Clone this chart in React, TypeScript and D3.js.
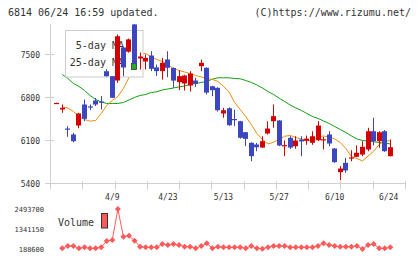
import React, { useEffect, useRef } from 'react';
import * as d3 from 'd3';

const W = 420;
const H = 259;

// daily candles, oldest first
const opens = [6705, 6605, 6295, 6198, 6344, 6686, 6655, 6751, 6735, 7228, 7147, 7077, 7614, 7546, 7990, 7435, 7386, 7484, 7290, 7229, 7419, 7280, 7049, 7028, 6995, 7077, 7310, 7284, 6984, 6958, 6540, 6625, 6450, 6414, 6235, 6063, 6035, 5985, 6214, 6414, 6426, 6010, 6144, 6007, 6116, 6095, 6063, 6105, 6105, 6198, 5970, 5584, 5737, 5805, 5835, 5872, 5954, 6251, 6089, 6251, 5845];
const highs = [6715, 6686, 6333, 6225, 6550, 6767, 6686, 6790, 6824, 7260, 7150, 7826, 7630, 7760, 7995, 7533, 7500, 7554, 7337, 7446, 7554, 7290, 7240, 7170, 7229, 7120, 7419, 7290, 6990, 6965, 6632, 6640, 6600, 6420, 6240, 6070, 6063, 6170, 6414, 6686, 6430, 6100, 6170, 6170, 6170, 6180, 6250, 6414, 6160, 6251, 5975, 5682, 5818, 5942, 6020, 6089, 6307, 6470, 6251, 6270, 6116];
const lows = [6705, 6551, 6160, 6072, 6300, 6414, 6594, 6660, 6605, 7140, 6790, 7039, 7147, 7530, 7340, 7256, 7256, 7229, 7150, 7092, 7130, 6958, 6920, 6914, 6898, 6974, 7229, 6850, 6821, 6572, 6470, 6340, 6333, 6130, 6007, 5763, 5926, 5980, 6198, 6307, 6010, 5845, 5960, 5965, 5845, 6030, 6030, 6089, 5954, 6007, 5737, 5454, 5574, 5763, 5830, 5845, 5926, 6019, 5981, 5915, 5840];
const closes = [6712, 6632, 6285, 6089, 6540, 6453, 6645, 6686, 6725, 7147, 6796, 7798, 7288, 7746, 7350, 7468, 7446, 7267, 7229, 7365, 7284, 7075, 7147, 7158, 7190, 7023, 7365, 6880, 6919, 6593, 6593, 6349, 6435, 6144, 6127, 5845, 5990, 6089, 6295, 6496, 6019, 6025, 5985, 6100, 6085, 6130, 6170, 6344, 6120, 6051, 5747, 5644, 5612, 5825, 5900, 5997, 6251, 6089, 6235, 5926, 5991];

const ma5 = [null, 6643, 6630, 6573, 6491, 6442, 6415, 6426, 6540, 6670, 6752, 6817, 6947, 7126, 7354, 7517, 7517, 7460, 7419, 7387, 7330, 7273, 7240, 7216, 7191, 7159, 7134, 7110, 7094, 7061, 6980, 6890, 6719, 6605, 6491, 6361, 6214, 6117, 6043, 6073, 6117, 6170, 6182, 6149, 6125, 6108, 6092, 6157, 6174, 6157, 6125, 6068, 5970, 5840, 5807, 5766, 5848, 5926, 6035, 6100, 6092];
const ma25 = [null, 7175, 7110, 7029, 6980, 6915, 6833, 6768, 6727, 6703, 6703, 6703, 6719, 6760, 6801, 6833, 6849, 6882, 6893, 6923, 6939, 6955, 6972, 6988, 7012, 7029, 7045, 7061, 7099, 7121, 7121, 7120, 7110, 7105, 7077, 7045, 7004, 6955, 6898, 6849, 6789, 6735, 6678, 6630, 6589, 6540, 6491, 6459, 6418, 6377, 6328, 6279, 6231, 6174, 6125, 6100, 6092, 6079, 6068, 6060, 6043];

const volumes = [null, 227000, 361500, 361500, 227000, 284600, 227000, 227000, 284600, 649600, 707200, 2493700, 899300, 957000, 668800, 323100, 284600, 284600, 284600, 476700, 419100, 476700, 419100, 323100, 323100, 227000, 361500, 515200, 227000, 323100, 284600, 284600, 284600, 284600, 227000, 361500, 227000, 210000, 284600, 361500, 361500, 361500, 284600, 284600, 284600, 284600, 284600, 361500, 515200, 419100, 361500, 323100, 323100, 323100, 361500, 188600, 419100, 476700, 227000, 227000, 284600];

const priceTicks = [5400, 6100, 6800, 7500];
const dateLabels = ['4/9', '4/23', '5/13', '5/27', '6/10', '6/24'];
const dateLabelIdx = [10, 20, 30, 40, 50, 60];

const UP = '#d40000';
const DOWN = '#3c46be';
const MA5_COLOR = '#f08c10';
const MA25_COLOR = '#10a010';
const VOL_COLOR = '#ff5a5a';
const GRID = '#d0d0d0';
const TEXT = '#333';
const MONO = '"DejaVu Sans Mono", monospace';

export default function App() {
    const svgRef = useRef<SVGSVGElement>(null);

    useEffect(() => {
        const svg = d3.select(svgRef.current);
        svg.selectAll('*').remove();

        const x = d3.scaleLinear().domain([0, opens.length - 1]).range([56.7, 390.3]);
        const y = d3.scaleLinear().domain([5400, 8000]).range([183.5, 23.8]);
        const volExtent = d3.extent(volumes.filter(v => v != null) as number[]) as [number, number];
        const vy = d3.scaleLinear().domain(volExtent).range([249, 209]);
        const snap = (v: number) => Math.round(v - 0.5) + 0.5;

        // header
        svg.append('text').attr('x', 8).attr('y', 16)
            .attr('font-family', MONO).attr('font-size', 10).attr('fill', TEXT)
            .text('6814 06/24 16:59 updated.');
        svg.append('text').attr('x', 411).attr('y', 16).attr('text-anchor', 'end')
            .attr('font-family', MONO).attr('font-size', 10).attr('fill', TEXT)
            .text('(C)https://www.rizumu.net/');

        // axes frame
        const axes = svg.append('g').attr('stroke', GRID).attr('stroke-width', 1);
        axes.append('line').attr('x1', 50.5).attr('x2', 50.5).attr('y1', 24).attr('y2', 184);
        axes.append('line').attr('x1', 45).attr('x2', 405.5).attr('y1', 183.5).attr('y2', 183.5);
        axes.selectAll('.yt').data(priceTicks).enter().append('line')
            .attr('x1', 45).attr('x2', 54)
            .attr('y1', d => snap(y(d))).attr('y2', d => snap(y(d)));
        axes.selectAll('.xt').data(d3.range(12)).enter().append('line')
            .attr('x1', d => snap(50.7 + d * 32.24)).attr('x2', d => snap(50.7 + d * 32.24))
            .attr('y1', 181).attr('y2', 189.5);

        svg.selectAll('.ylab').data(priceTicks).enter().append('text')
            .attr('x', 40).attr('y', d => y(d) + 3)
            .attr('text-anchor', 'end').attr('font-family', MONO).attr('font-size', 8).attr('fill', TEXT)
            .text(d => String(d));

        svg.selectAll('.xlab').data(dateLabels).enter().append('text')
            .attr('x', (d, i) => x(dateLabelIdx[i]))
            .attr('y', 200)
            .attr('text-anchor', (d, i) => (i === dateLabels.length - 1 ? 'end' : 'middle'))
            .attr('dx', (d, i) => (i === dateLabels.length - 1 ? 8 : 0))
            .attr('font-family', MONO).attr('font-size', 8).attr('fill', TEXT)
            .text(d => d);

        // moving averages
        const maLine = d3.line<number | null>()
            .defined(d => d != null)
            .x((d, i) => x(i))
            .y(d => y(d as number));
        svg.append('path').attr('d', maLine(ma25)).attr('fill', 'none')
            .attr('stroke', MA25_COLOR).attr('stroke-width', 1);
        svg.append('path').attr('d', maLine(ma5)).attr('fill', 'none')
            .attr('stroke', MA5_COLOR).attr('stroke-width', 1);

        // legend box sits over the lines, under the candles
        const legend = svg.append('g');
        legend.append('rect').attr('x', 65.5).attr('y', 30.5).attr('width', 77.5).attr('height', 46.5)
            .attr('fill', '#fff').attr('stroke', '#ccc');
        legend.append('text').attr('x', 124).attr('y', 49).attr('text-anchor', 'end')
            .attr('font-family', MONO).attr('font-size', 10).attr('fill', TEXT).text('5-day MA');
        legend.append('text').attr('x', 124).attr('y', 66).attr('text-anchor', 'end')
            .attr('font-family', MONO).attr('font-size', 10).attr('fill', TEXT).text('25-day MA');

        // candles
        const bodyW = 5;
        const candles = svg.append('g').selectAll('g').data(opens.map((o, i) => ({
            i, o, h: highs[i], l: lows[i], c: closes[i]
        }))).enter().append('g');
        candles.append('line')
            .attr('x1', d => snap(x(d.i))).attr('x2', d => snap(x(d.i)))
            .attr('y1', d => y(d.h)).attr('y2', d => y(d.l))
            .attr('stroke', d => (d.c >= d.o ? UP : DOWN)).attr('stroke-width', 1);
        candles.append('rect')
            .attr('x', d => Math.round(x(d.i) - bodyW / 2))
            .attr('y', d => y(Math.max(d.o, d.c)))
            .attr('width', bodyW)
            .attr('height', d => Math.max(1.2, Math.abs(y(d.o) - y(d.c))))
            .attr('fill', d => (d.c >= d.o ? UP : DOWN));

        legend.append('rect').attr('x', 131.5).attr('y', 63.5).attr('width', 5).attr('height', 6)
            .attr('fill', '#22b022').attr('stroke', '#333').attr('stroke-width', 0.8);

        // volume
        const volLine = d3.line<number | null>()
            .defined(d => d != null)
            .x((d, i) => x(i))
            .y(d => vy(d as number));
        svg.append('path').attr('d', volLine(volumes)).attr('fill', 'none')
            .attr('stroke', VOL_COLOR).attr('stroke-width', 1);
        const diamond = d3.symbol().type(d3.symbolSquare).size(18);
        svg.append('g').selectAll('path')
            .data(volumes.map((v, i) => ({ v, i })).filter(d => d.v != null))
            .enter().append('path')
            .attr('d', diamond)
            .attr('transform', d => `translate(${x(d.i)},${vy(d.v as number)}) rotate(45)`)
            .attr('fill', VOL_COLOR);

        const volTicks = [volExtent[1], (volExtent[0] + volExtent[1]) / 2, volExtent[0]];
        svg.selectAll('.vlab').data(volTicks).enter().append('text')
            .attr('x', 44).attr('y', d => vy(d) + 2.5)
            .attr('text-anchor', 'end').attr('font-family', MONO).attr('font-size', 7).attr('fill', TEXT)
            .text(d => String(Math.round(d)));

        svg.append('text').attr('x', 58).attr('y', 226)
            .attr('font-family', MONO).attr('font-size', 10).attr('fill', TEXT).text('Volume');
        svg.append('rect').attr('x', 101.5).attr('y', 213.5).attr('width', 6).attr('height', 14.5)
            .attr('fill', VOL_COLOR).attr('stroke', '#333');
    }, []);

    return (
        <div style={{ position: 'absolute', left: 0, top: 0 }}>
            <svg ref={svgRef} width={W} height={H} style={{ display: 'block', background: '#fff' }} />
        </div>
    );
}
